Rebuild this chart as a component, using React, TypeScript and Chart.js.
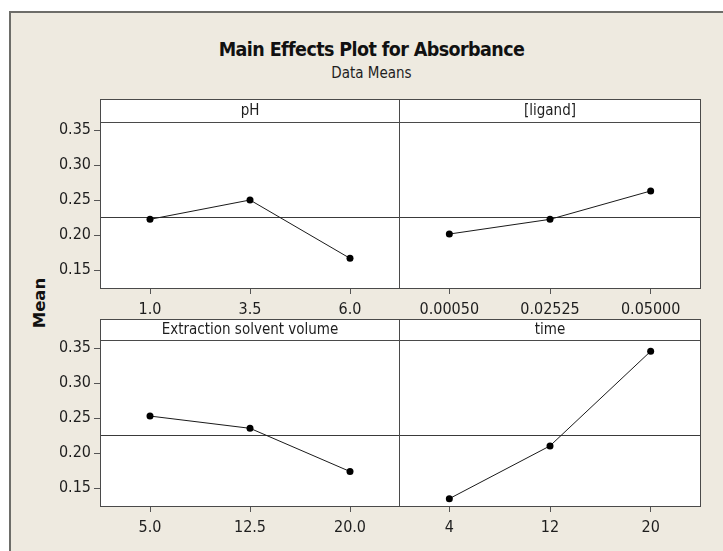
import React, { useEffect, useRef } from 'react';
import { Chart, registerables } from 'chart.js';

Chart.register(...registerables);

const FONT = '"DejaVu Sans Condensed", "DejaVu Sans", sans-serif';

const chartTitle = 'Main Effects Plot for Absorbance';
const chartSubtitle = 'Data Means';
const yAxisTitle = 'Mean';

const phName = 'pH';
const phLevels = ['1.0', '3.5', '6.0'];
const phMeans = [0.2224, 0.25, 0.1667];

const ligandName = '[ligand]';
const ligandLevels = ['0.00050', '0.02525', '0.05000'];
const ligandMeans = [0.2014, 0.2224, 0.2629];

const solventName = 'Extraction solvent volume';
const solventLevels = ['5.0', '12.5', '20.0'];
const solventMeans = [0.2528, 0.2353, 0.1736];

const timeName = 'time';
const timeLevels = ['4', '12', '20'];
const timeMeans = [0.1348, 0.2102, 0.3453];

const grandMean = 0.2255;
const yTicks = [0.15, 0.2, 0.25, 0.3, 0.35];
const yMin = 0.1229;
const yMax = 0.36;

type PanelProps = {
  name: string;
  labels: string[];
  values: number[];
  showY: boolean;
  left: number;
  top: number;
  width: number;
  height: number;
  stripH: number;
  axisW: number;
  axisH: number;
};

function Panel(p: PanelProps) {
  const ref = useRef<HTMLCanvasElement | null>(null);
  useEffect(() => {
    if (!ref.current) return;
    const frame = {
      id: 'panelFrame',
      beforeDraw(chart: any) {
        const { ctx, chartArea: ca } = chart;
        ctx.save();
        ctx.fillStyle = '#ffffff';
        ctx.fillRect(ca.left, ca.top - p.stripH, ca.right - ca.left, ca.bottom - ca.top + p.stripH);
        ctx.restore();
      },
      beforeDatasetsDraw(chart: any) {
        const { ctx, chartArea: ca } = chart;
        const y = Math.round(chart.scales.y.getPixelForValue(grandMean)) + 0.5;
        ctx.save();
        ctx.strokeStyle = '#3a3a3a';
        ctx.lineWidth = 1;
        ctx.beginPath();
        ctx.moveTo(ca.left, y);
        ctx.lineTo(ca.right, y);
        ctx.stroke();
        ctx.restore();
      },
      afterDraw(chart: any) {
        const { ctx, chartArea: ca } = chart;
        ctx.save();
        ctx.strokeStyle = '#4a4a4a';
        ctx.lineWidth = 1;
        const l = ca.left + 0.5;
        const r = ca.right - 0.5;
        const t = ca.top - p.stripH + 0.5;
        const s = ca.top - 0.5;
        const b = ca.bottom - 0.5;
        ctx.strokeRect(l, t, r - l, b - t);
        ctx.beginPath();
        ctx.moveTo(l, s);
        ctx.lineTo(r, s);
        ctx.stroke();
        ctx.fillStyle = '#1e1e1e';
        ctx.font = '15px ' + FONT;
        ctx.textAlign = 'center';
        ctx.textBaseline = 'middle';
        ctx.fillText(p.name, (ca.left + ca.right) / 2, ca.top - p.stripH / 2);
        ctx.restore();
      },
    };
    const chart = new Chart(ref.current, {
      type: 'line',
      data: {
        labels: p.labels,
        datasets: [
          {
            data: p.values,
            borderColor: '#1a1a1a',
            borderWidth: 1,
            pointRadius: 3.5,
            pointBackgroundColor: '#000000',
            pointBorderColor: '#000000',
            pointBorderWidth: 0,
            tension: 0,
          },
        ],
      },
      options: {
        animation: false,
        responsive: false,
        maintainAspectRatio: false,
        devicePixelRatio: 1,
        events: [],
        layout: { autoPadding: false, padding: { top: p.stripH, left: 0, right: 0, bottom: 0 } },
        plugins: {
          legend: { display: false },
          tooltip: { enabled: false },
          title: { display: false },
        },
        scales: {
          x: {
            type: 'category',
            offset: true,
            grid: {
              display: true,
              drawOnChartArea: false,
              drawTicks: true,
              tickLength: 5,
              tickColor: '#555555',
              tickWidth: 1,
            },
            border: { display: false },
            ticks: {
              font: { family: FONT, size: 16 },
              color: '#1e1e1e',
              padding: 6,
              maxRotation: 0,
              autoSkip: false,
            },
            afterFit: (s: any) => {
              s.height = p.axisH;
              s.paddingLeft = 0;
              s.paddingRight = 0;
            },
          },
          y: {
            display: p.showY,
            min: yMin,
            max: yMax,
            afterBuildTicks: (s: any) => {
              s.ticks = yTicks.map((v) => ({ value: v }));
            },
            grid: {
              display: true,
              drawOnChartArea: false,
              drawTicks: true,
              tickLength: 6,
              tickColor: '#555555',
              tickWidth: 1,
            },
            border: { display: false },
            ticks: {
              font: { family: FONT, size: 16 },
              color: '#1e1e1e',
              padding: 3,
              callback: (v: any) => Number(v).toFixed(2),
            },
            afterFit: (s: any) => {
              s.width = p.showY ? p.axisW : 0;
              s.paddingTop = 0;
              s.paddingBottom = 0;
            },
          },
        },
      },
      plugins: [frame],
    } as any);
    return () => chart.destroy();
  }, []);
  return (
    <canvas
      ref={ref}
      width={p.width}
      height={p.height}
      style={{ position: 'absolute', left: p.left, top: p.top, width: p.width, height: p.height }}
    />
  );
}

export default function App() {
  return (
    <div style={{ position: 'absolute', left: 0, top: 0, width: 723, height: 551, overflow: 'hidden', background: '#ffffff' }}>
      <div
        style={{
          position: 'absolute',
          left: 9,
          top: 11,
          width: 723 - 9,
          height: 551 - 11,
          background: '#eeeae0',
          borderLeft: '2px solid #6d6d69',
          borderTop: '2px solid #6d6d69',
          boxSizing: 'border-box',
        }}
      />
      <div
        style={{
          position: 'absolute',
          left: 0,
          top: 39.5,
          width: 743,
          textAlign: 'center',
          font: 'bold 19.5px ' + FONT,
          lineHeight: '19.5px',
          letterSpacing: '-0.6px',
          color: '#111111',
          whiteSpace: 'nowrap',
        }}
      >
        {chartTitle}
      </div>
      <div
        style={{
          position: 'absolute',
          left: 0,
          top: 66,
          width: 743,
          textAlign: 'center',
          font: '15px ' + FONT,
          lineHeight: '15px',
          color: '#1e1e1e',
          whiteSpace: 'nowrap',
        }}
      >
        {chartSubtitle}
      </div>
      <div
        style={{
          position: 'absolute',
          left: 40,
          top: 302.5,
          transform: 'translate(-50%, -50%) rotate(-90deg)',
          font: 'bold 16.5px "DejaVu Sans", sans-serif',
          lineHeight: '16.5px',
          color: '#111111',
          whiteSpace: 'nowrap',
        }}
      >
        {yAxisTitle}
      </div>
      <Panel name={phName} labels={phLevels} values={phMeans} showY={true} left={40} top={99} width={360} height={220} stripH={24} axisW={60} axisH={30} />
      <Panel name={ligandName} labels={ligandLevels} values={ligandMeans} showY={false} left={399} top={99} width={302} height={220} stripH={24} axisW={0} axisH={30} />
      <Panel name={solventName} labels={solventLevels} values={solventMeans} showY={true} left={40} top={319} width={360} height={218} stripH={22} axisW={60} axisH={30} />
      <Panel name={timeName} labels={timeLevels} values={timeMeans} showY={false} left={399} top={319} width={302} height={218} stripH={22} axisW={0} axisH={30} />
    </div>
  );
}
